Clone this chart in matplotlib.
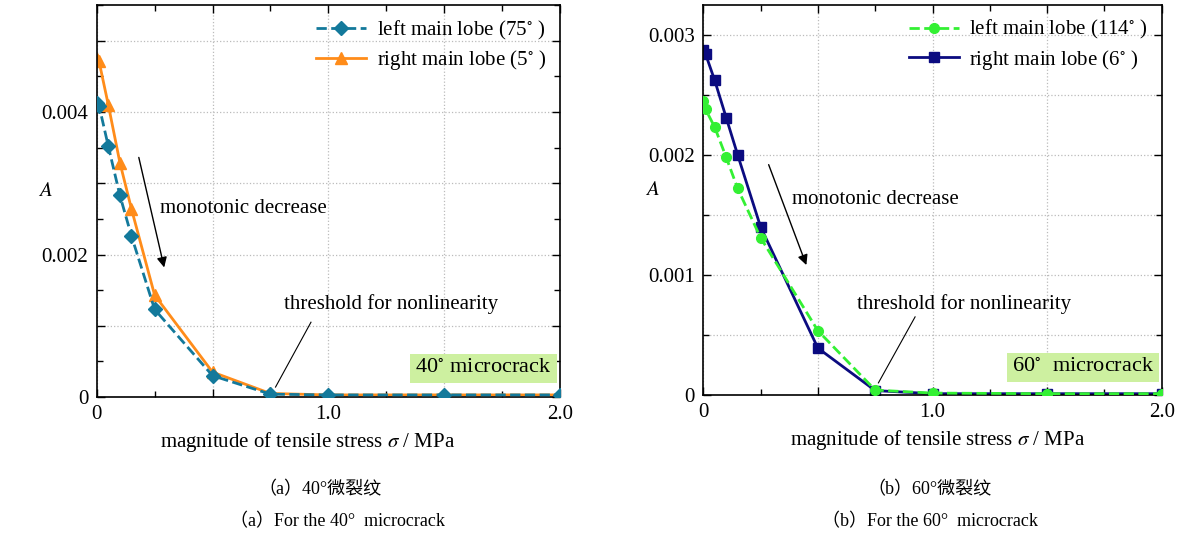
import numpy as np
import matplotlib.pyplot as plt
from matplotlib.ticker import MultipleLocator, FuncFormatter

plt.rcParams['font.family'] = ['Liberation Serif', 'Noto Sans CJK SC']
plt.rcParams['mathtext.fontset'] = 'stix'

# tensile stress (MPa)
sigma = [0, 0.01, 0.05, 0.1, 0.15, 0.25, 0.5, 0.75, 1.0, 1.5, 2.0]

# 40 deg microcrack
left40 = [0.00413, 0.00409, 0.00352, 0.00283, 0.00226, 0.00123, 0.00030, 0.00004, 0.00003, 0.00003, 0.00003]
right40 = [0.00475, 0.00471, 0.00410, 0.00329, 0.00264, 0.00143, 0.00035, 0.00005, 0.00003, 0.00003, 0.00003]

# 60 deg microcrack
left60 = [0.00245, 0.00238, 0.00223, 0.00198, 0.00172, 0.00131, 0.000535, 0.00004, 0.000015, 0.00001, 0.00001]
right60 = [0.00287, 0.00284, 0.00262, 0.00231, 0.00200, 0.00140, 0.00039, 0.000036, 0.00001, 0.00001, 0.00001]

fs = 15
fig = plt.figure(figsize=(11.94, 5.38), dpi=100)
ax1 = fig.add_axes([0.081, 0.262, 0.388, 0.7286])
ax2 = fig.add_axes([0.589, 0.266, 0.384, 0.725])


def style(ax, ymax, ylabels, grid_minor_y, xlab_x):
    ax.set_xlim(0, 2.0)
    ax.set_ylim(0, ymax)
    ax.xaxis.set_major_locator(MultipleLocator(0.5))
    ax.xaxis.set_minor_locator(MultipleLocator(0.25))
    ax.xaxis.set_major_formatter(FuncFormatter(
        lambda v, p: {0: '0', 1.0: '1.0', 2.0: '2.0'}.get(round(v, 2), '')))
    ax.yaxis.set_major_locator(MultipleLocator(0.001))
    ax.yaxis.set_minor_locator(MultipleLocator(0.0005))
    ax.yaxis.set_major_formatter(FuncFormatter(
        lambda v, p: ylabels.get(round(v, 6), '')))
    ax.tick_params(which='both', direction='in', top=True, right=True,
                   labelsize=fs, pad=6)
    ax.tick_params(which='major', length=6, width=1)
    ax.tick_params(which='minor', length=4, width=1)
    ax.grid(True, which='major', ls=':', color='#bbbbbb', lw=0.9)
    if grid_minor_y:
        ax.grid(True, which='minor', axis='y', ls=':', color='#bbbbbb', lw=0.9)
    for s in ax.spines.values():
        s.set_linewidth(1.2)
    ax.set_xlabel(r'magnitude of tensile stress $\sigma$ / MPa', fontsize=fs)
    ax.xaxis.set_label_coords(xlab_x, -0.085)
    ax.set_ylabel(r'$A$', fontsize=fs, rotation=0)
    ax.yaxis.set_label_coords(-0.11, 0.5)


style(ax1, 0.0055, {0: '0', 0.002: '0.002', 0.004: '0.004'}, False, 0.455)
style(ax2, 0.00325, {0: '0', 0.001: '0.001', 0.002: '0.002', 0.003: '0.003'}, True, 0.51)

ax1.plot(sigma, left40, ls='--', color='#13799b', lw=2, marker='D', ms=7,
         label='left main lobe (75$^{\\circ}$ )', zorder=3)
ax1.plot(sigma, right40, ls='-', color='#ff8c1a', lw=2, marker='^', ms=8,
         label='right main lobe (5$^{\\circ}$ )', zorder=2)
ax2.plot(sigma, left60, ls='--', color='#33f033', lw=2, marker='o', ms=7,
         label='left main lobe (114$^{\\circ}$ )', zorder=3)
ax2.plot(sigma, right60, ls='-', color='#0b0b80', lw=2, marker='s', ms=6.5,
         label='right main lobe (6$^{\\circ}$ )', zorder=2)

for ax in (ax1, ax2):
    ax.legend(loc='upper right', frameon=False, fontsize=fs, handlelength=2.4,
              borderaxespad=0.25, labelspacing=0.3, handletextpad=0.5)

# annotations, panel (a)
ax1.annotate('', xy=(0.294, 0.00178), xytext=(0.179, 0.0034),
             arrowprops=dict(arrowstyle='-|>', color='black', lw=1, mutation_scale=15))
ax1.text(0.273, 0.00264, 'monotonic decrease', fontsize=fs, va='center')
ax1.plot([0.925, 0.772], [0.00105, 0.00014], color='black', lw=0.8)
ax1.text(0.81, 0.0013, 'threshold for nonlinearity', fontsize=fs, va='center')
ax1.text(1.965, 0.0004, '40$^{\\circ}$ microcrack', fontsize=fs + 1, ha='right', va='center',
         bbox=dict(boxstyle='square,pad=0.22', fc='#cdf0a0', ec='none'))

# annotations, panel (b)
ax2.annotate('', xy=(0.454, 0.00106), xytext=(0.281, 0.00194),
             arrowprops=dict(arrowstyle='-|>', color='black', lw=1, mutation_scale=15))
ax2.text(0.386, 0.001625, 'monotonic decrease', fontsize=fs, va='center')
ax2.plot([0.924, 0.764], [0.00065, 0.0001], color='black', lw=0.8)
ax2.text(0.67, 0.00076, 'threshold for nonlinearity', fontsize=fs, va='center')
ax2.text(1.965, 0.000225, '60$^{\\circ}$  microcrack', fontsize=fs + 1, ha='right', va='center',
         bbox=dict(boxstyle='square,pad=0.22', fc='#cdf0a0', ec='none'))

# captions
fig.text(320 / 1194, 1 - 490 / 538, '（a）40°微裂纹', fontsize=13, ha='center', va='center')
fig.text(337 / 1194, 1 - 522 / 538, '（a）For the 40°  microcrack', fontsize=13, ha='center', va='center')
fig.text(930 / 1194, 1 - 490 / 538, '（b）60°微裂纹', fontsize=13, ha='center', va='center')
fig.text(930 / 1194, 1 - 522 / 538, '（b）For the 60°  microcrack', fontsize=13, ha='center', va='center')

fig.savefig('out.png', dpi=100)
